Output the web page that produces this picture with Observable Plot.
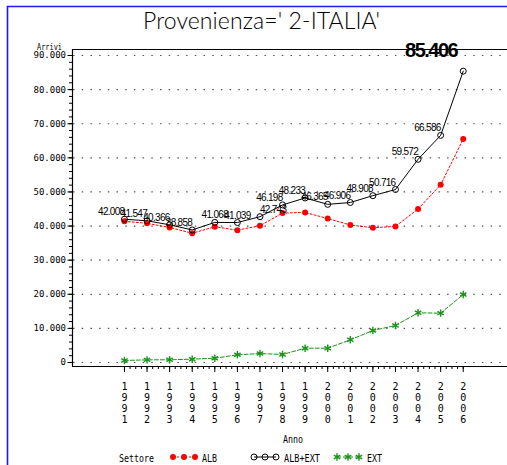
<!DOCTYPE html>
<html>
<head>
<meta charset="utf-8">
<script src="https://cdn.jsdelivr.net/npm/d3@7"></script>
<script src="https://cdn.jsdelivr.net/npm/@observablehq/plot@0.6"></script>
<style>
html, body { margin: 0; padding: 0; background: #fff; }
#wrap { position: relative; width: 507px; height: 465px; overflow: hidden; }
#wrap > svg { position: absolute; left: 0; top: 0; }
</style>
</head>
<body>
<div id="wrap"></div>
<script>
// ---- data ----
const years = [1991, 1992, 1993, 1994, 1995, 1996, 1997, 1998, 1999, 2000, 2001, 2002, 2003, 2004, 2005, 2006];
const albExt = [42008, 41547, 40366, 38858, 41068, 41039, 42743, 46198, 48233, 46365, 46906, 48908, 50716, 59572, 66586, 85406];
const alb = [41400, 40800, 39600, 37900, 39800, 38800, 40100, 43800, 44000, 42200, 40300, 39500, 39900, 45000, 52100, 65500];
const ext = [600, 780, 800, 980, 1270, 2250, 2640, 2350, 4200, 4200, 6650, 9380, 10850, 14570, 14470, 19940];
const yTicks = [0, 10000, 20000, 30000, 40000, 50000, 60000, 70000, 80000, 90000];
const seriesNames = ["ALB", "ALB+EXT", "EXT"];
const titleText = "Provenienza=' 2-ITALIA'";
const yTitle = "Arrivi";
const xTitle = "Anno";
const legendTitle = "Settore";

// ---- styling ----
const colors = {"ALB": "#ff0000", "ALB+EXT": "#000000", "EXT": "#1a941a"};
const labelAnchor = {1995: "middle", 1996: "middle", 1997: "start"};
const monoFont = "DejaVu Sans Mono, monospace";
const sansFont = "Liberation Sans, Arial, sans-serif";

const fmt = d => d3.format(",")(d).replace(/,/g, ".");
const rows = years.map((year, i) => ({year, alb: alb[i], albExt: albExt[i], ext: ext[i]}));
const lastYear = years[years.length - 1];
const smallLabels = rows.filter(d => d.year !== lastYear);
const minorY = d3.range(0, 90001, 2000);
const minorX = d3.range(0, 61).map(i => years[0] + i / 4);
const xDomain = [1988.7, 2007.96];
const yDomain = [-1170, 91760];

const chart = Plot.plot({
  width: 507,
  height: 465,
  marginTop: 49,
  marginBottom: 99,
  marginLeft: 72,
  marginRight: 0,
  x: {domain: xDomain},
  y: {domain: yDomain},
  style: {fontFamily: monoFont, fontSize: "9px", color: "#000", background: "transparent", overflow: "visible"},
  marks: [
    Plot.gridY(yTicks, {stroke: "#555", strokeOpacity: 1, strokeWidth: 1.2, strokeDasharray: "1.5 7.2", strokeDashoffset: 7.7}),
    Plot.ruleY([yDomain[1]], {stroke: "#000", strokeWidth: 1.2}),
    Plot.ruleY([yDomain[0]], {stroke: "#000", strokeWidth: 1.2}),
    Plot.ruleX([xDomain[0]], {stroke: "#000", strokeWidth: 1.2}),
    Plot.axisY(minorY, {tickSize: 3, tickFormat: () => "", label: null}),
    Plot.axisY(yTicks, {tickSize: 4.5, tickPadding: 2, tickFormat: fmt, label: null, fontSize: 9, fontFamily: monoFont}),
    Plot.axisX(minorX, {tickSize: 3, tickFormat: () => "", label: null}),
    Plot.axisX(years, {tickSize: 6, tickPadding: 10, tickFormat: d => String(d).split("").join("\n"), lineHeight: 1.09, label: null, fontSize: 10, fontFamily: monoFont}),
    Plot.line(rows, {x: "year", y: "alb", stroke: colors["ALB"], strokeWidth: 1, strokeDasharray: "2 2"}),
    Plot.line(rows, {x: "year", y: "ext", stroke: colors["EXT"], strokeWidth: 1, strokeDasharray: "4 2"}),
    Plot.line(rows, {x: "year", y: "albExt", stroke: colors["ALB+EXT"], strokeWidth: 1}),
    Plot.dot(rows, {x: "year", y: "alb", fill: colors["ALB"], r: 3}),
    Plot.dot(rows, {x: "year", y: "albExt", stroke: colors["ALB+EXT"], fill: "none", r: 3, strokeWidth: 1}),
    Plot.dot(rows, {x: "year", y: "ext", symbol: "asterisk", stroke: colors["EXT"], r: 3.5, strokeWidth: 1.4}),
    ...["start", "middle", "end"].map(a => Plot.text(
      smallLabels.filter(d => (labelAnchor[d.year] || "end") === a),
      {x: "year", y: "albExt", text: d => fmt(d.albExt), textAnchor: a, lineAnchor: "bottom", dy: -4,
       fontFamily: sansFont, fontSize: 10, fill: "#000"})),
    Plot.text(rows.filter(d => d.year === lastYear),
      {x: "year", y: "albExt", text: d => fmt(d.albExt), textAnchor: "end", lineAnchor: "bottom", dx: -6, dy: -14.5,
       fontFamily: sansFont, fontSize: 20, fontWeight: "bold", fill: "#000"})
  ]
});
document.getElementById("wrap").appendChild(chart);
// condense the value labels (letter spacing is not a Plot option)
d3.select(chart).selectAll("g, text").filter(function () {
  return this.getAttribute("font-family") === sansFont;
}).each(function () {
  const fs = +this.getAttribute("font-size");
  d3.select(this).style("letter-spacing", fs >= 20 ? "-1.5px" : "-0.7px");
});

// ---- overlay: border, title, axis titles, legend ----
const ov = d3.select("#wrap").append("svg").attr("width", 507).attr("height", 465);
ov.append("path").attr("d", "M7.5,465 V6.5 H507").attr("fill", "none").attr("stroke", "#1a1aee").attr("stroke-width", 1.6);

ov.append("text").attr("x", 261.5).attr("y", 29).attr("text-anchor", "middle")
  .attr("font-family", "Lato, DejaVu Sans, sans-serif").attr("font-weight", 300).attr("font-size", 23)
  .attr("textLength", 237).attr("lengthAdjust", "spacing").text(titleText);

ov.append("text").attr("x", 37).attr("y", 49.5).attr("font-family", monoFont).attr("font-size", 9)
  .attr("textLength", 25).attr("lengthAdjust", "spacingAndGlyphs").text(yTitle);

ov.append("text").attr("x", 293).attr("y", 443).attr("text-anchor", "middle").attr("font-family", monoFont).attr("font-size", 10)
  .attr("textLength", 20).attr("lengthAdjust", "spacingAndGlyphs").text(xTitle);

const legY = 457;
ov.append("text").attr("x", 119).attr("y", 461.5).attr("font-family", monoFont).attr("font-size", 10)
  .attr("textLength", 35).attr("lengthAdjust", "spacingAndGlyphs").text(legendTitle);

const legendItems = [
  {name: seriesNames[0], x0: 173, tx: 202, tl: 15, dash: "2 2", sym: "dot"},
  {name: seriesNames[1], x0: 254, tx: 284, tl: 36, dash: null, sym: "circle"},
  {name: seriesNames[2], x0: 337, tx: 367, tl: 15, dash: "4 2", sym: "asterisk"}
];
for (const it of legendItems) {
  const c = colors[it.name];
  const g = ov.append("g");
  g.append("line").attr("x1", it.x0).attr("x2", it.x0 + 22).attr("y1", legY).attr("y2", legY)
    .attr("stroke", c).attr("stroke-dasharray", it.dash).attr("stroke-width", 1);
  for (let k = 0; k < 3; k++) {
    const cx = it.x0 + k * 11;
    if (it.sym === "dot") g.append("circle").attr("cx", cx).attr("cy", legY).attr("r", 3).attr("fill", c);
    else if (it.sym === "circle") g.append("circle").attr("cx", cx).attr("cy", legY).attr("r", 3).attr("fill", "none").attr("stroke", c);
    else g.append("path").attr("transform", `translate(${cx},${legY})`)
      .attr("d", d3.symbol(d3.symbolAsterisk, Math.PI * 3.5 * 3.5)()).attr("stroke", c).attr("stroke-width", 1.4).attr("fill", "none");
  }
  g.append("text").attr("x", it.tx).attr("y", 461.5).attr("font-family", monoFont).attr("font-size", 10)
    .attr("textLength", it.tl).attr("lengthAdjust", "spacingAndGlyphs").text(it.name);
}
</script>
</body>
</html>
